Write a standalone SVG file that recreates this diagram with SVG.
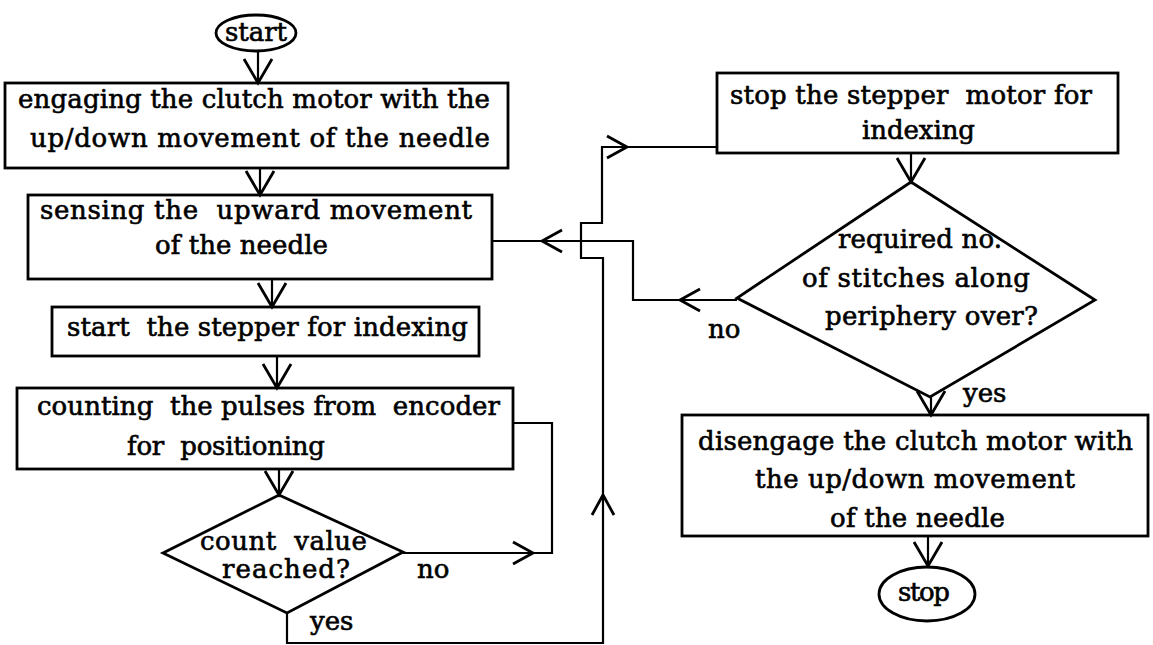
<svg xmlns="http://www.w3.org/2000/svg" width="1153" height="645" viewBox="0 0 1153 645">
<style>
.box{fill:#fff;stroke:#000;stroke-width:2.8}
.ln{fill:none;stroke:#000;stroke-width:2.2}
.ch{fill:none;stroke:#000;stroke-width:2.8;stroke-linejoin:miter}
text{font-family:"DejaVu Serif","Liberation Serif",serif;font-size:26px;fill:#000;stroke:#000;stroke-width:0.6;white-space:pre}
</style>
<defs>
<path id="chv" class="ch" d="M-14,-24 L0,0 L14,-24"/>
<path id="chh" class="ch" d="M-11,-20 L0,0 L11,-20"/>
</defs>
<rect width="1153" height="645" fill="#fff"/>

<g id="start">
<ellipse class="box" cx="256" cy="33" rx="40" ry="18"/>
<text x="225" y="41" textLength="62" lengthAdjust="spacing">start</text>
</g>
<g id="engage">
<rect class="box" x="5" y="83" width="503" height="85"/>
<text x="18" y="108" textLength="472" lengthAdjust="spacing">engaging the clutch motor with the</text>
<text x="30" y="147" textLength="460" lengthAdjust="spacing">up/down movement of the needle</text>
</g>
<g id="sense">
<rect class="box" x="28" y="195" width="464" height="84"/>
<text x="40" y="219" textLength="432" lengthAdjust="spacing">sensing the  upward movement</text>
<text x="155" y="254" textLength="173" lengthAdjust="spacing">of the needle</text>
</g>
<g id="startstepper">
<rect class="box" x="52" y="307" width="427" height="49"/>
<text x="67" y="336" textLength="401" lengthAdjust="spacing">start  the stepper for indexing</text>
</g>
<g id="counting">
<rect class="box" x="17" y="388" width="496" height="81"/>
<text x="37" y="415" textLength="463" lengthAdjust="spacing">counting  the pulses from  encoder</text>
<text x="127" y="455" textLength="198" lengthAdjust="spacing">for  positioning</text>
</g>
<g id="countcheck">
<polygon class="box" points="279,495 403,552 287,613 163,553"/>
<text x="200" y="550" textLength="167" lengthAdjust="spacing">count  value</text>
<text x="222" y="578" textLength="128" lengthAdjust="spacing">reached?</text>
</g>
<g id="stopstepper">
<rect class="box" x="717" y="73" width="401" height="80"/>
<text x="730" y="104" textLength="362" lengthAdjust="spacing">stop the stepper  motor for</text>
<text x="862" y="139" textLength="113" lengthAdjust="spacing">indexing</text>
</g>
<g id="stitchcheck">
<polygon class="box" points="911,182 1095,300 930,397 737,298"/>
<text x="838" y="248" textLength="164" lengthAdjust="spacing">required no.</text>
<text x="802" y="287" textLength="228" lengthAdjust="spacing">of stitches along</text>
<text x="825" y="325" textLength="213" lengthAdjust="spacing">periphery over?</text>
</g>
<g id="disengage">
<rect class="box" x="682" y="415" width="466" height="121"/>
<text x="698" y="450" textLength="435" lengthAdjust="spacing">disengage the clutch motor with</text>
<text x="755" y="488" textLength="320" lengthAdjust="spacing">the up/down movement</text>
<text x="830" y="527" textLength="175" lengthAdjust="spacing">of the needle</text>
</g>
<g id="stop">
<ellipse class="box" cx="927" cy="594" rx="48" ry="27"/>
<text x="898" y="601" textLength="52" lengthAdjust="spacing">stop</text>
</g>

<g id="connectors">
<line class="ln" x1="258" y1="51" x2="258" y2="83"/>
<use href="#chv" transform="translate(258,83)"/>
<line class="ln" x1="260" y1="168" x2="260" y2="195"/>
<use href="#chv" transform="translate(260,195)"/>
<line class="ln" x1="272" y1="279" x2="272" y2="307"/>
<use href="#chv" transform="translate(272,307)"/>
<line class="ln" x1="277" y1="356" x2="277" y2="388"/>
<use href="#chv" transform="translate(277,388)"/>
<line class="ln" x1="279" y1="469" x2="279" y2="495"/>
<use href="#chv" transform="translate(279,495)"/>
<polyline class="ln" points="403,553 552,553 552,423 513,423"/>
<use href="#chh" transform="translate(533,553) rotate(-90)"/>
<text x="417" y="578">no</text>
<polyline class="ln" points="287,613 287,643 603,643 603,258 581,258 581,223 602,223 602,147 717,147"/>
<use href="#chh" transform="translate(603,495) rotate(180)"/>
<use href="#chh" transform="translate(627,147) rotate(-90)"/>
<text x="310" y="630">yes</text>
<line class="ln" x1="911" y1="153" x2="911" y2="182"/>
<use href="#chv" transform="translate(911,182)"/>
<polyline class="ln" points="737,300 633,300 633,241 492,241"/>
<use href="#chh" transform="translate(680,300) rotate(90)"/>
<use href="#chh" transform="translate(542,241) rotate(90)"/>
<text x="708" y="338">no</text>
<line class="ln" x1="931" y1="397" x2="931" y2="415"/>
<use href="#chv" transform="translate(931,415)"/>
<text x="963" y="402">yes</text>
<line class="ln" x1="928" y1="536" x2="928" y2="567"/>
<use href="#chv" transform="translate(928,566)"/>
</g>
</svg>
